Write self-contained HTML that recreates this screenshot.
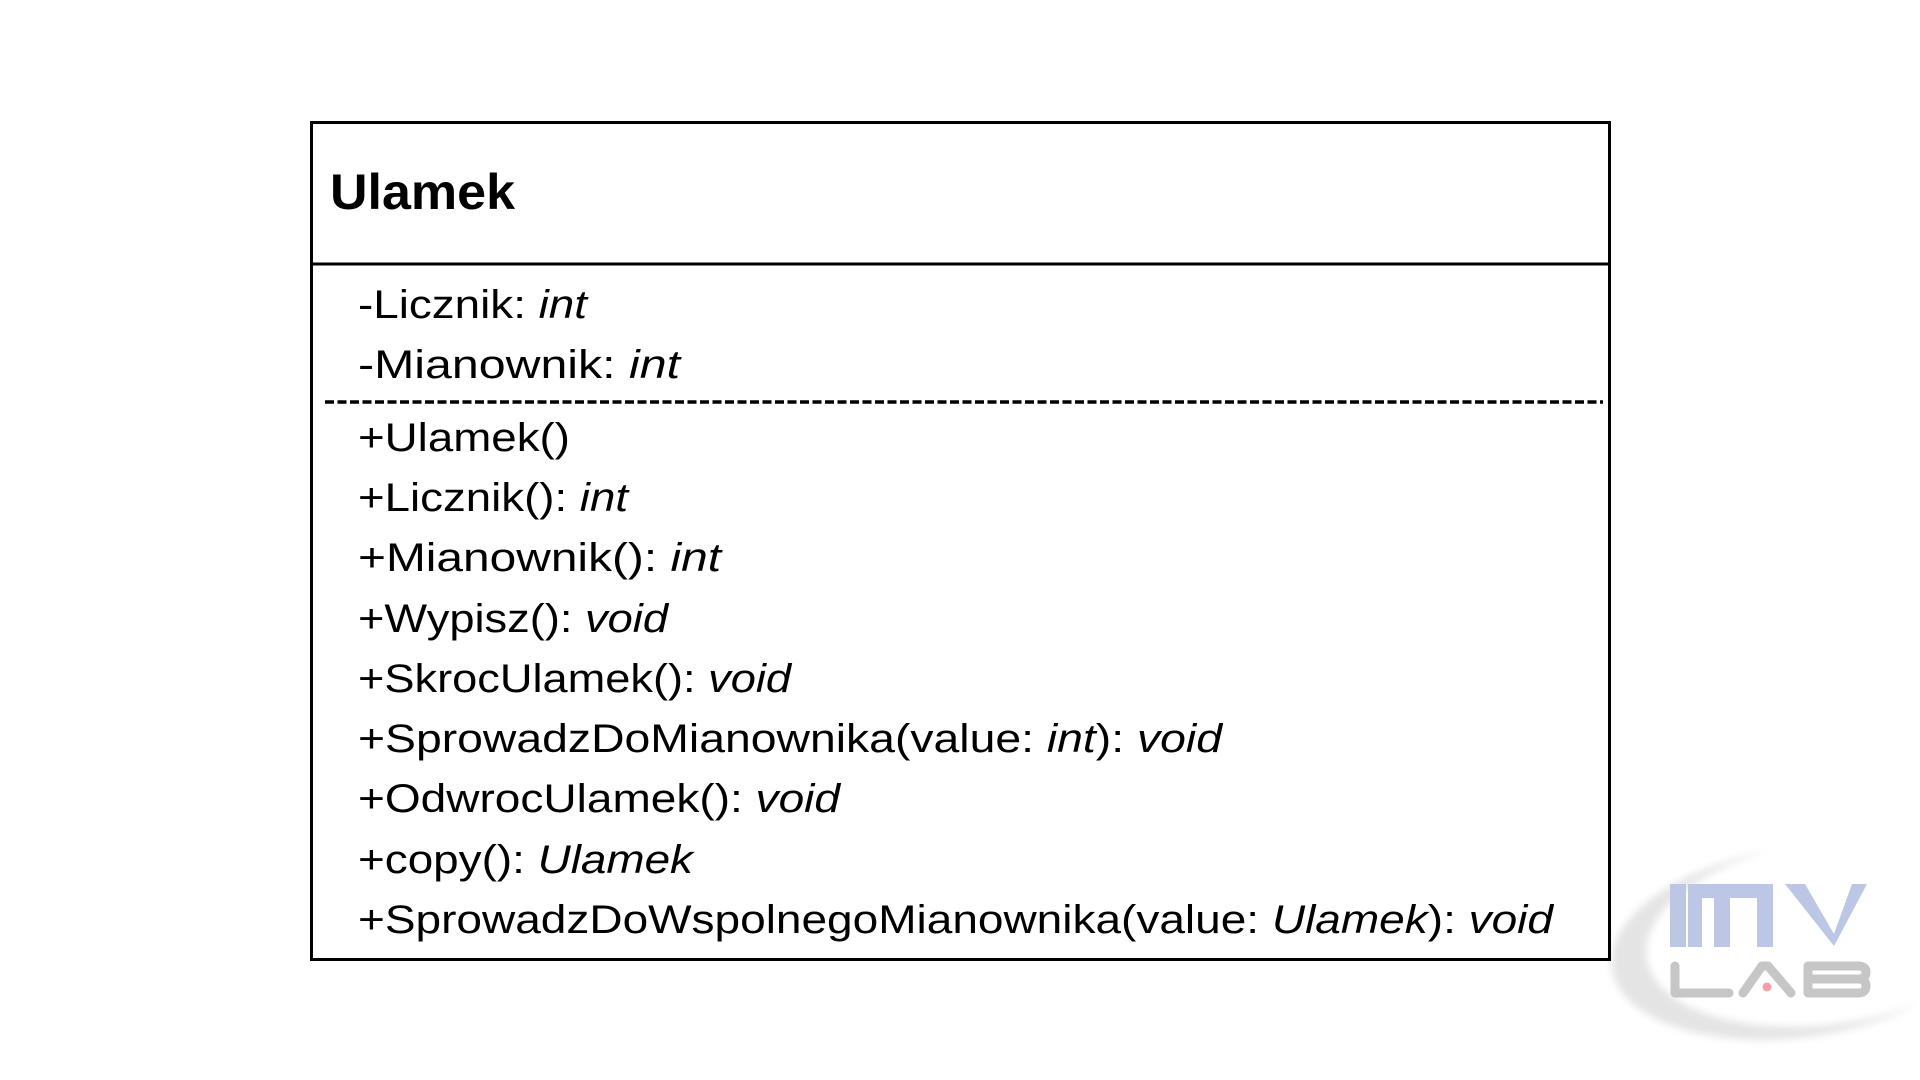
<!DOCTYPE html>
<html><head><meta charset="utf-8"><style>
html,body{margin:0;padding:0;background:#fff;width:1920px;height:1080px;overflow:hidden}
</style></head><body>
<svg width="1920" height="1080" viewBox="0 0 1920 1080" xmlns="http://www.w3.org/2000/svg" font-family="'Liberation Sans', sans-serif" font-size="40" fill="#000">
<defs>
<filter id="bl" x="-20%" y="-20%" width="140%" height="140%"><feGaussianBlur stdDeviation="4"/></filter>
</defs>
<g filter="url(#bl)">
<ellipse cx="1800" cy="942" rx="190" ry="95" fill="#e4e4e4" transform="rotate(-8 1800 942)"/>
<ellipse cx="1830" cy="932" rx="185" ry="92" fill="#fff" transform="rotate(-8 1830 932)"/>
</g>
<rect x="311.5" y="122.5" width="1298" height="837" fill="none" stroke="#000" stroke-width="3"/>
<line x1="311" y1="264" x2="1610" y2="264" stroke="#000" stroke-width="3"/>
<line x1="325" y1="402" x2="1603" y2="402" stroke="#000" stroke-width="3.5" stroke-dasharray="9,3.5"/>
<text x="330" y="209" font-weight="bold" font-size="50" textLength="185" lengthAdjust="spacingAndGlyphs">Ulamek</text>
<text x="358" y="318" textLength="229" lengthAdjust="spacingAndGlyphs">-Licznik: <tspan font-style="italic">int</tspan></text>
<text x="358" y="378" textLength="322" lengthAdjust="spacingAndGlyphs">-Mianownik: <tspan font-style="italic">int</tspan></text>
<text x="358" y="451" textLength="212" lengthAdjust="spacingAndGlyphs">+Ulamek()</text>
<text x="358" y="511" textLength="270" lengthAdjust="spacingAndGlyphs">+Licznik(): <tspan font-style="italic">int</tspan></text>
<text x="358" y="571" textLength="363" lengthAdjust="spacingAndGlyphs">+Mianownik(): <tspan font-style="italic">int</tspan></text>
<text x="358" y="632" textLength="310" lengthAdjust="spacingAndGlyphs">+Wypisz(): <tspan font-style="italic">void</tspan></text>
<text x="358" y="692" textLength="433" lengthAdjust="spacingAndGlyphs">+SkrocUlamek(): <tspan font-style="italic">void</tspan></text>
<text x="358" y="752" textLength="864" lengthAdjust="spacingAndGlyphs">+SprowadzDoMianownika(value: <tspan font-style="italic">int</tspan>): <tspan font-style="italic">void</tspan></text>
<text x="358" y="812" textLength="482" lengthAdjust="spacingAndGlyphs">+OdwrocUlamek(): <tspan font-style="italic">void</tspan></text>
<text x="358" y="873" textLength="335" lengthAdjust="spacingAndGlyphs">+copy(): <tspan font-style="italic">Ulamek</tspan></text>
<text x="358" y="933" textLength="1195" lengthAdjust="spacingAndGlyphs">+SprowadzDoWspolnegoMianownika(value: <tspan font-style="italic">Ulamek</tspan>): <tspan font-style="italic">void</tspan></text>
<g fill="#bcc7e6">
<rect x="1670" y="884" width="16" height="63"/>
<path d="M1688 884 H1773 V947 H1757 V898 H1730 V947 H1714 V898 H1702 V947 H1688 Z"/>
<path d="M1785 884 H1805 L1834 934 L1852 884 H1867 L1834 946 Z"/>
</g>
<g fill="none" stroke="#c6c6c6" stroke-width="9" stroke-linecap="round" stroke-linejoin="round">
<path d="M1675 966 V993 H1729"/>
<path d="M1743 993 L1762 966 H1768 L1791 993"/>
<path d="M1808 966 H1858 Q1866 966 1866 972 Q1866 979 1858 979 H1808 V966 M1808 979 H1858 Q1866 979 1866 986 Q1866 993 1858 993 H1808 Z"/>
</g>
<circle cx="1767" cy="987" r="4.5" fill="#f4a0a8"/>
</svg>
</body></html>
